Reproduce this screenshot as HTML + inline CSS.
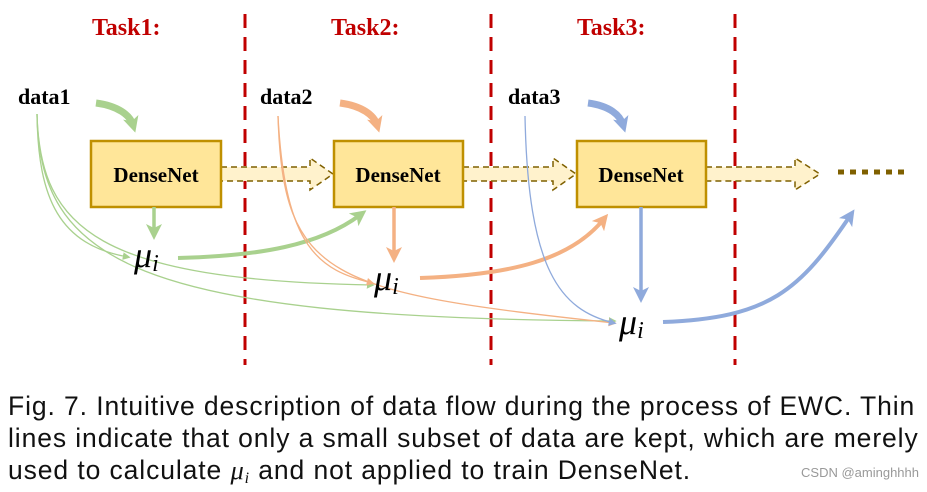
<!DOCTYPE html>
<html><head><meta charset="utf-8"><style>
body{margin:0;background:#fff;width:927px;height:492px;overflow:hidden}
.cap{position:absolute;left:8px;top:390px;font-family:"Liberation Sans",sans-serif;font-size:26.5px;line-height:32px;color:#111;white-space:nowrap}
.cap div{letter-spacing:0.9px}
.cap sub{font-size:16px;position:relative;top:4px;vertical-align:baseline}
.wm{position:absolute;right:8px;top:465px;font-family:"Liberation Sans",sans-serif;font-size:13px;color:#999}
</style></head><body>
<svg width="927" height="492" style="position:absolute;left:0;top:0" font-family="Liberation Serif,serif">
<defs>
<marker id="g" markerWidth="6" markerHeight="6" refX="4" refY="3" orient="auto"><path d="M0,0L6,3L0,6z" fill="#a9d18e"/></marker>
<marker id="o" markerWidth="6" markerHeight="6" refX="4" refY="3" orient="auto"><path d="M0,0L6,3L0,6z" fill="#f4b183"/></marker>
<marker id="b" markerWidth="6" markerHeight="6" refX="4" refY="3" orient="auto"><path d="M0,0L6,3L0,6z" fill="#8faadc"/></marker>
<marker id="gs" markerWidth="16" markerHeight="16" refX="8" refY="8" orient="auto" markerUnits="userSpaceOnUse"><path d="M0,0L16,8L0,16L4,8z" fill="#a9d18e"/></marker>
<marker id="os" markerWidth="16" markerHeight="16" refX="8" refY="8" orient="auto" markerUnits="userSpaceOnUse"><path d="M0,0L16,8L0,16L4,8z" fill="#f4b183"/></marker>
<marker id="bs" markerWidth="16" markerHeight="16" refX="8" refY="8" orient="auto" markerUnits="userSpaceOnUse"><path d="M0,0L16,8L0,16L4,8z" fill="#8faadc"/></marker>
</defs>
<g fill="#c00000" font-weight="bold" font-size="24">
<text x="92" y="35">Task1:</text><text x="331" y="35">Task2:</text><text x="577" y="35">Task3:</text></g>
<g stroke="#c00000" stroke-width="3" stroke-dasharray="14,9">
<line x1="245" y1="14" x2="245" y2="365"/><line x1="491" y1="14" x2="491" y2="365"/><line x1="735" y1="14" x2="735" y2="365"/></g>
<g font-weight="bold" font-size="22" fill="#000">
<text x="18" y="104">data1</text><text x="260" y="104">data2</text><text x="508" y="104">data3</text></g>
<g fill="#fff2cc" stroke="#7f6000" stroke-width="1.5" stroke-dasharray="6,4">
<path d="M221,167H310V158L333,174L310,190V181H221"/>
<path d="M463,167H553V158L576,174L553,190V181H463"/>
<path d="M706,167H795V158L820,174L795,190V181H706"/></g>
<line x1="838" y1="172" x2="910" y2="172" stroke="#7f6000" stroke-width="5" stroke-dasharray="6,6"/>
<g fill="#ffe699" stroke="#bf9000" stroke-width="2.5">
<rect x="91" y="141" width="130" height="66"/><rect x="334" y="141" width="129" height="66"/><rect x="577" y="141" width="129" height="66"/></g>
<g font-weight="bold" font-size="21" text-anchor="middle"><text x="156" y="182">DenseNet</text><text x="398" y="182">DenseNet</text><text x="641" y="182">DenseNet</text></g>
<path d="M96,103C118,106 130,115 133,125" fill="none" stroke="#a9d18e" stroke-width="7" marker-end="url(#gs)"/>
<path d="M340,103C362,106 374,115 377,125" fill="none" stroke="#f4b183" stroke-width="7" marker-end="url(#os)"/>
<path d="M588,103C610,106 620,115 623,125" fill="none" stroke="#8faadc" stroke-width="7" marker-end="url(#bs)"/>
<line x1="154" y1="207" x2="154" y2="232" stroke="#a9d18e" stroke-width="3.5" marker-end="url(#gs)"/>
<line x1="394" y1="207" x2="394" y2="255" stroke="#f4b183" stroke-width="3.5" marker-end="url(#os)"/>
<line x1="641" y1="207" x2="641" y2="295" stroke="#8faadc" stroke-width="3.5" marker-end="url(#bs)"/>
<path d="M178,258C260,256 320,245 360,215" fill="none" stroke="#a9d18e" stroke-width="4" marker-end="url(#gs)"/>
<path d="M420,278C510,275 570,260 603,220" fill="none" stroke="#f4b183" stroke-width="4" marker-end="url(#os)"/>
<path d="M663,322C770,318 800,290 850,216" fill="none" stroke="#8faadc" stroke-width="4" marker-end="url(#bs)"/>
<g fill="none" stroke-width="1.3">
<path d="M37,114C38,200 60,245 128,257" stroke="#a9d18e" marker-end="url(#g)"/>
<path d="M37,114C40,230 100,280 372,285" stroke="#a9d18e" marker-end="url(#g)"/>
<path d="M37,114C40,260 130,318 614,321" stroke="#a9d18e" marker-end="url(#g)"/>
<path d="M278,116C285,250 320,270 372,283" stroke="#f4b183" marker-end="url(#o)"/>
<path d="M278,116C283,280 330,292 614,323" stroke="#f4b183" marker-end="url(#o)"/>
<path d="M525,116C528,270 560,310 614,323" stroke="#8faadc" marker-end="url(#b)"/>
</g>
<g font-style="italic" font-size="36" fill="#000"><text x="134" y="267">μ<tspan font-size="24" dy="4">i</tspan></text>
<text x="374" y="290">μ<tspan font-size="24" dy="4">i</tspan></text>
<text x="619" y="334">μ<tspan font-size="24" dy="4">i</tspan></text></g>
</svg>
<div class="cap"><div>Fig. 7. Intuitive description of data flow during the process of EWC. Thin</div><div>lines indicate that only a small subset of data are kept, which are merely</div><div>used to calculate <i style="font-family:'Liberation Serif',serif">μ<sub>i</sub></i> and not applied to train DenseNet.</div></div>
<div class="wm">CSDN @aminghhhh</div>
</body></html>
